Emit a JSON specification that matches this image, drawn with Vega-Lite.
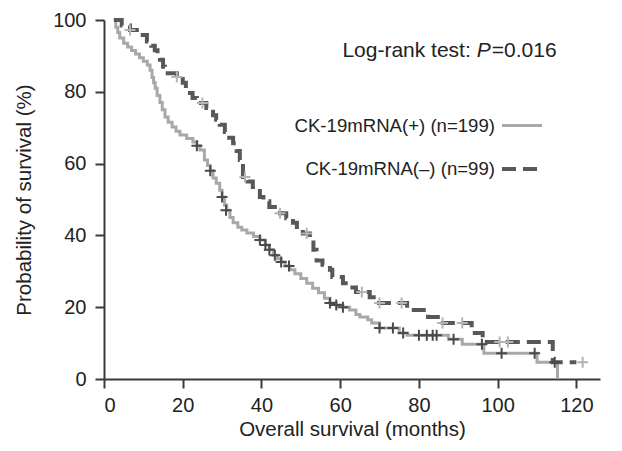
{
  "$schema": "https://vega.github.io/schema/vega-lite/v6.json",
  "width": 496,
  "height": 359,
  "autosize": {"type": "none"},
  "padding": {"left": 104, "top": 20, "right": 22, "bottom": 72},
  "background": "white",
  "config": {
    "view": {"stroke": null},
    "font": "Liberation Sans",
    "axis": {
      "grid": false,
      "domainColor": "#3a3a3a",
      "domainWidth": 2,
      "tickColor": "#3a3a3a",
      "tickWidth": 2,
      "tickSize": 9,
      "labelFontSize": 20,
      "labelColor": "#222222",
      "titleFontSize": 20.5,
      "titleFontWeight": "normal",
      "titleColor": "#222222"
    }
  },
  "datasets": {
    "curve": [
      {"g": "CK-19mRNA(+) (n=199)", "t": 2.5, "s": 100},
      {"g": "CK-19mRNA(+) (n=199)", "t": 3, "s": 98},
      {"g": "CK-19mRNA(+) (n=199)", "t": 3.5, "s": 96.5},
      {"g": "CK-19mRNA(+) (n=199)", "t": 4, "s": 95},
      {"g": "CK-19mRNA(+) (n=199)", "t": 5, "s": 93.5},
      {"g": "CK-19mRNA(+) (n=199)", "t": 6, "s": 92.5},
      {"g": "CK-19mRNA(+) (n=199)", "t": 7, "s": 91.5},
      {"g": "CK-19mRNA(+) (n=199)", "t": 8, "s": 90.5},
      {"g": "CK-19mRNA(+) (n=199)", "t": 9, "s": 89.5},
      {"g": "CK-19mRNA(+) (n=199)", "t": 10, "s": 88.5},
      {"g": "CK-19mRNA(+) (n=199)", "t": 11, "s": 87.5},
      {"g": "CK-19mRNA(+) (n=199)", "t": 11.7, "s": 86},
      {"g": "CK-19mRNA(+) (n=199)", "t": 12.2, "s": 84},
      {"g": "CK-19mRNA(+) (n=199)", "t": 12.6, "s": 82.5},
      {"g": "CK-19mRNA(+) (n=199)", "t": 13, "s": 81},
      {"g": "CK-19mRNA(+) (n=199)", "t": 13.5, "s": 79},
      {"g": "CK-19mRNA(+) (n=199)", "t": 14.2, "s": 77},
      {"g": "CK-19mRNA(+) (n=199)", "t": 14.8, "s": 75},
      {"g": "CK-19mRNA(+) (n=199)", "t": 15.5, "s": 73},
      {"g": "CK-19mRNA(+) (n=199)", "t": 16.3, "s": 71.5},
      {"g": "CK-19mRNA(+) (n=199)", "t": 17.3, "s": 70.2},
      {"g": "CK-19mRNA(+) (n=199)", "t": 18.3, "s": 69},
      {"g": "CK-19mRNA(+) (n=199)", "t": 19.3, "s": 68},
      {"g": "CK-19mRNA(+) (n=199)", "t": 21, "s": 67},
      {"g": "CK-19mRNA(+) (n=199)", "t": 22.6, "s": 66},
      {"g": "CK-19mRNA(+) (n=199)", "t": 23.6, "s": 65},
      {"g": "CK-19mRNA(+) (n=199)", "t": 24.4, "s": 63.8},
      {"g": "CK-19mRNA(+) (n=199)", "t": 25.5, "s": 61},
      {"g": "CK-19mRNA(+) (n=199)", "t": 26.3, "s": 59.5},
      {"g": "CK-19mRNA(+) (n=199)", "t": 27, "s": 58},
      {"g": "CK-19mRNA(+) (n=199)", "t": 27.7, "s": 56},
      {"g": "CK-19mRNA(+) (n=199)", "t": 28.5, "s": 54.5},
      {"g": "CK-19mRNA(+) (n=199)", "t": 29.4, "s": 52.6},
      {"g": "CK-19mRNA(+) (n=199)", "t": 30, "s": 50.7},
      {"g": "CK-19mRNA(+) (n=199)", "t": 30.6, "s": 48.5},
      {"g": "CK-19mRNA(+) (n=199)", "t": 31.2, "s": 47},
      {"g": "CK-19mRNA(+) (n=199)", "t": 32, "s": 45},
      {"g": "CK-19mRNA(+) (n=199)", "t": 32.8, "s": 43.5},
      {"g": "CK-19mRNA(+) (n=199)", "t": 34, "s": 42.3},
      {"g": "CK-19mRNA(+) (n=199)", "t": 35, "s": 41.5},
      {"g": "CK-19mRNA(+) (n=199)", "t": 36.3, "s": 40.7},
      {"g": "CK-19mRNA(+) (n=199)", "t": 38, "s": 39.7},
      {"g": "CK-19mRNA(+) (n=199)", "t": 39.6, "s": 38.7},
      {"g": "CK-19mRNA(+) (n=199)", "t": 41, "s": 37.3},
      {"g": "CK-19mRNA(+) (n=199)", "t": 42, "s": 36},
      {"g": "CK-19mRNA(+) (n=199)", "t": 43, "s": 34.5},
      {"g": "CK-19mRNA(+) (n=199)", "t": 44, "s": 33.5},
      {"g": "CK-19mRNA(+) (n=199)", "t": 45, "s": 32.6},
      {"g": "CK-19mRNA(+) (n=199)", "t": 46, "s": 31.5},
      {"g": "CK-19mRNA(+) (n=199)", "t": 47.2, "s": 30.4},
      {"g": "CK-19mRNA(+) (n=199)", "t": 48.5, "s": 29.3},
      {"g": "CK-19mRNA(+) (n=199)", "t": 50, "s": 28},
      {"g": "CK-19mRNA(+) (n=199)", "t": 51.5, "s": 26.7},
      {"g": "CK-19mRNA(+) (n=199)", "t": 53, "s": 25.3},
      {"g": "CK-19mRNA(+) (n=199)", "t": 54.5, "s": 24},
      {"g": "CK-19mRNA(+) (n=199)", "t": 56, "s": 22.5},
      {"g": "CK-19mRNA(+) (n=199)", "t": 57.4, "s": 21.2},
      {"g": "CK-19mRNA(+) (n=199)", "t": 59, "s": 20.6},
      {"g": "CK-19mRNA(+) (n=199)", "t": 60.7, "s": 20},
      {"g": "CK-19mRNA(+) (n=199)", "t": 62.4, "s": 19.2},
      {"g": "CK-19mRNA(+) (n=199)", "t": 64, "s": 18},
      {"g": "CK-19mRNA(+) (n=199)", "t": 65, "s": 17.3},
      {"g": "CK-19mRNA(+) (n=199)", "t": 67, "s": 16.5},
      {"g": "CK-19mRNA(+) (n=199)", "t": 68, "s": 15.6},
      {"g": "CK-19mRNA(+) (n=199)", "t": 70, "s": 14.2},
      {"g": "CK-19mRNA(+) (n=199)", "t": 75, "s": 12.8},
      {"g": "CK-19mRNA(+) (n=199)", "t": 77, "s": 12.2},
      {"g": "CK-19mRNA(+) (n=199)", "t": 87.5, "s": 11.1},
      {"g": "CK-19mRNA(+) (n=199)", "t": 91, "s": 9.7},
      {"g": "CK-19mRNA(+) (n=199)", "t": 96.5, "s": 7.2},
      {"g": "CK-19mRNA(+) (n=199)", "t": 110, "s": 4.7},
      {"g": "CK-19mRNA(+) (n=199)", "t": 115.2, "s": 0},
      {"g": "CK-19mRNA(–) (n=99)", "t": 2.5, "s": 100},
      {"g": "CK-19mRNA(–) (n=99)", "t": 4.5, "s": 98.5},
      {"g": "CK-19mRNA(–) (n=99)", "t": 6.6, "s": 97.2},
      {"g": "CK-19mRNA(–) (n=99)", "t": 9, "s": 95.8},
      {"g": "CK-19mRNA(–) (n=99)", "t": 10.9, "s": 94},
      {"g": "CK-19mRNA(–) (n=99)", "t": 12, "s": 92.8},
      {"g": "CK-19mRNA(–) (n=99)", "t": 12.9, "s": 91.6},
      {"g": "CK-19mRNA(–) (n=99)", "t": 13.6, "s": 90},
      {"g": "CK-19mRNA(–) (n=99)", "t": 14.2, "s": 88.9},
      {"g": "CK-19mRNA(–) (n=99)", "t": 15, "s": 87},
      {"g": "CK-19mRNA(–) (n=99)", "t": 15.5, "s": 85.2},
      {"g": "CK-19mRNA(–) (n=99)", "t": 18.5, "s": 84.1},
      {"g": "CK-19mRNA(–) (n=99)", "t": 20, "s": 82.5},
      {"g": "CK-19mRNA(–) (n=99)", "t": 20.8, "s": 81},
      {"g": "CK-19mRNA(–) (n=99)", "t": 21.3, "s": 79.7},
      {"g": "CK-19mRNA(–) (n=99)", "t": 22.5, "s": 78.3},
      {"g": "CK-19mRNA(–) (n=99)", "t": 23.6, "s": 76.9},
      {"g": "CK-19mRNA(–) (n=99)", "t": 26, "s": 75.5},
      {"g": "CK-19mRNA(–) (n=99)", "t": 27.7, "s": 73.5},
      {"g": "CK-19mRNA(–) (n=99)", "t": 28.5, "s": 72.2},
      {"g": "CK-19mRNA(–) (n=99)", "t": 29.4, "s": 70.8},
      {"g": "CK-19mRNA(–) (n=99)", "t": 30.7, "s": 68.8},
      {"g": "CK-19mRNA(–) (n=99)", "t": 31.8, "s": 67.2},
      {"g": "CK-19mRNA(–) (n=99)", "t": 32.8, "s": 65.7},
      {"g": "CK-19mRNA(–) (n=99)", "t": 33.7, "s": 63.5},
      {"g": "CK-19mRNA(–) (n=99)", "t": 34.5, "s": 61},
      {"g": "CK-19mRNA(–) (n=99)", "t": 35.3, "s": 56.3},
      {"g": "CK-19mRNA(–) (n=99)", "t": 36.5, "s": 55},
      {"g": "CK-19mRNA(–) (n=99)", "t": 37.8, "s": 53.5},
      {"g": "CK-19mRNA(–) (n=99)", "t": 39.6, "s": 50.7},
      {"g": "CK-19mRNA(–) (n=99)", "t": 40.5, "s": 49.5},
      {"g": "CK-19mRNA(–) (n=99)", "t": 42, "s": 47.9},
      {"g": "CK-19mRNA(–) (n=99)", "t": 44.7, "s": 46.2},
      {"g": "CK-19mRNA(–) (n=99)", "t": 46.3, "s": 44.8},
      {"g": "CK-19mRNA(–) (n=99)", "t": 48, "s": 43.5},
      {"g": "CK-19mRNA(–) (n=99)", "t": 49, "s": 41.5},
      {"g": "CK-19mRNA(–) (n=99)", "t": 50.5, "s": 40.5},
      {"g": "CK-19mRNA(–) (n=99)", "t": 52.3, "s": 38.7},
      {"g": "CK-19mRNA(–) (n=99)", "t": 53.2, "s": 36},
      {"g": "CK-19mRNA(–) (n=99)", "t": 54, "s": 33},
      {"g": "CK-19mRNA(–) (n=99)", "t": 55.5, "s": 31.8},
      {"g": "CK-19mRNA(–) (n=99)", "t": 57.4, "s": 30.4},
      {"g": "CK-19mRNA(–) (n=99)", "t": 58, "s": 28.4},
      {"g": "CK-19mRNA(–) (n=99)", "t": 60.7, "s": 26.7},
      {"g": "CK-19mRNA(–) (n=99)", "t": 62.3, "s": 25.5},
      {"g": "CK-19mRNA(–) (n=99)", "t": 64, "s": 24.2},
      {"g": "CK-19mRNA(–) (n=99)", "t": 67.5, "s": 22.8},
      {"g": "CK-19mRNA(–) (n=99)", "t": 69.3, "s": 21.2},
      {"g": "CK-19mRNA(–) (n=99)", "t": 77, "s": 19.2},
      {"g": "CK-19mRNA(–) (n=99)", "t": 82.3, "s": 17.3},
      {"g": "CK-19mRNA(–) (n=99)", "t": 84.8, "s": 15.6},
      {"g": "CK-19mRNA(–) (n=99)", "t": 93.4, "s": 12.8},
      {"g": "CK-19mRNA(–) (n=99)", "t": 96.2, "s": 10.3},
      {"g": "CK-19mRNA(–) (n=99)", "t": 114, "s": 4.7},
      {"g": "CK-19mRNA(–) (n=99)", "t": 120, "s": 4.7}
    ],
    "censor": [
      {"g": "pos", "t": 23.6, "s": 65},
      {"g": "pos", "t": 27, "s": 58},
      {"g": "pos", "t": 30, "s": 50.7},
      {"g": "pos", "t": 31, "s": 47},
      {"g": "pos", "t": 39.6, "s": 38.7},
      {"g": "pos", "t": 41, "s": 37.3},
      {"g": "pos", "t": 42, "s": 36},
      {"g": "pos", "t": 43.4, "s": 34.5},
      {"g": "pos", "t": 45, "s": 32.6},
      {"g": "pos", "t": 47, "s": 31.5},
      {"g": "pos", "t": 57.4, "s": 21.2},
      {"g": "pos", "t": 59, "s": 20.6},
      {"g": "pos", "t": 60.7, "s": 20},
      {"g": "pos", "t": 70, "s": 14.2},
      {"g": "pos", "t": 73.4, "s": 14.2},
      {"g": "pos", "t": 76, "s": 12.8},
      {"g": "pos", "t": 80, "s": 12.2},
      {"g": "pos", "t": 82, "s": 12.2},
      {"g": "pos", "t": 83.5, "s": 12.2},
      {"g": "pos", "t": 84.5, "s": 12.2},
      {"g": "pos", "t": 88.8, "s": 11.1},
      {"g": "pos", "t": 96, "s": 9.7},
      {"g": "pos", "t": 101, "s": 7.2},
      {"g": "pos", "t": 109.4, "s": 7.2},
      {"g": "pos", "t": 114.5, "s": 4.7},
      {"g": "neg", "t": 6.6, "s": 97.2},
      {"g": "neg", "t": 18.5, "s": 84.1},
      {"g": "neg", "t": 25, "s": 76.9},
      {"g": "neg", "t": 35.8, "s": 56.3},
      {"g": "neg", "t": 44.7, "s": 46.2},
      {"g": "neg", "t": 51.5, "s": 40.5},
      {"g": "neg", "t": 65.5, "s": 24.2},
      {"g": "neg", "t": 70, "s": 21.2},
      {"g": "neg", "t": 75.6, "s": 21.2},
      {"g": "neg", "t": 86, "s": 15.6},
      {"g": "neg", "t": 91, "s": 15.6},
      {"g": "neg", "t": 100.5, "s": 10.3},
      {"g": "neg", "t": 102.6, "s": 10.3},
      {"g": "neg", "t": 121.6, "s": 4.7}
    ]
  },
  "layer": [
    {
      "data": {"name": "curve"},
      "mark": {"type": "line", "interpolate": "step-after", "strokeCap": "butt"},
      "encoding": {
        "x": {
          "field": "t", "type": "quantitative",
          "scale": {"domain": [0, 126], "nice": false},
          "axis": {"values": [0, 20, 40, 60, 80, 100, 120], "title": "Overall survival (months)", "labelPadding": 7, "titlePadding": 4}
        },
        "y": {
          "field": "s", "type": "quantitative",
          "scale": {"domain": [0, 100], "nice": false},
          "axis": {"values": [0, 20, 40, 60, 80, 100], "title": "Probability of survival (%)", "labelPadding": 9, "titlePadding": 18}
        },
        "color": {
          "field": "g", "type": "nominal",
          "scale": {"domain": ["CK-19mRNA(+) (n=199)", "CK-19mRNA(–) (n=99)"], "range": ["#a8a8a8", "#585858"]},
          "legend": {
            "title": null, "orient": "none", "legendX": 396, "legendY": 84,
            "labelAlign": "right", "labelOffset": -49, "labelFontSize": 18.6, "labelColor": "#222222", "labelLimit": 400,
            "symbolType": "stroke", "symbolSize": 1600, "symbolStrokeWidth": 3.5, "rowPadding": 11
          }
        },
        "strokeDash": {
          "field": "g", "type": "nominal",
          "scale": {"domain": ["CK-19mRNA(+) (n=199)", "CK-19mRNA(–) (n=99)"], "range": [[1, 0], [14, 7]]},
          "legend": {
            "title": null, "orient": "none", "legendX": 396, "legendY": 84,
            "labelAlign": "right", "labelOffset": -49, "labelFontSize": 18.6, "labelColor": "#222222", "labelLimit": 400,
            "symbolType": "stroke", "symbolSize": 1600, "symbolStrokeWidth": 3.5, "rowPadding": 11
          }
        },
        "strokeWidth": {
          "field": "g", "type": "nominal",
          "scale": {"domain": ["CK-19mRNA(+) (n=199)", "CK-19mRNA(–) (n=99)"], "range": [3, 4]},
          "legend": null
        }
      }
    },
    {
      "data": {"name": "censor"},
      "mark": {"type": "point", "shape": "M-1,0L1,0M0,-1L0,1", "filled": false, "size": 121, "strokeWidth": 2, "opacity": 1},
      "encoding": {
        "x": {"field": "t", "type": "quantitative"},
        "y": {"field": "s", "type": "quantitative"},
        "stroke": {
          "field": "g", "type": "nominal",
          "scale": {"domain": ["pos", "neg"], "range": ["#4a4a4a", "#b4b4b4"]},
          "legend": null
        }
      }
    },
    {
      "data": {"values": [{}]},
      "mark": {"type": "text", "text": "Log-rank test:", "align": "right", "baseline": "alphabetic", "fontSize": 21, "color": "#222222", "dx": -6},
      "encoding": {"x": {"datum": 94.7, "type": "quantitative"}, "y": {"datum": 89.7, "type": "quantitative"}}
    },
    {
      "data": {"values": [{}]},
      "mark": {"type": "text", "text": "P", "align": "left", "baseline": "alphabetic", "fontSize": 21, "fontStyle": "italic", "color": "#222222"},
      "encoding": {"x": {"datum": 94.7, "type": "quantitative"}, "y": {"datum": 89.7, "type": "quantitative"}}
    },
    {
      "data": {"values": [{}]},
      "mark": {"type": "text", "text": "=0.016", "align": "left", "baseline": "alphabetic", "fontSize": 21, "color": "#222222", "dx": 15},
      "encoding": {"x": {"datum": 94.7, "type": "quantitative"}, "y": {"datum": 89.7, "type": "quantitative"}}
    }
  ]
}
